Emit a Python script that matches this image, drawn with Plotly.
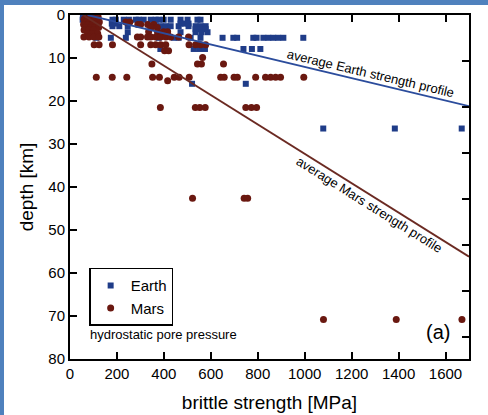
import plotly.graph_objects as go

# ---------------- data ----------------
earth_depth_km = (
    [0.5] * 4 +
    [1.1] * 19 +
    [2.0] * 5 +
    [2.6] * 13 +
    [3.3] * 3 +
    [4.0] * 8 +
    [5.3] * 19 +
    [7.9] * 7 +
    [16.0] * 2 +
    [26.4] * 3
)
earth_strength_mpa = (
    [55, 70, 88, 100] +
    [54, 75, 102, 181, 195, 229, 251, 280, 293, 314, 344, 365, 378, 399, 429, 471, 501, 543, 556] +
    [178, 195, 471, 490, 505] +
    [181, 210, 246, 344, 365, 386, 408, 429, 463, 505, 535, 556, 578] +
    [535, 556, 578] +
    [246, 373, 395, 416, 471, 535, 560, 586] +
    [112, 174, 238, 378, 442, 463, 514, 556, 650, 696, 712, 781, 795, 824, 845, 866, 887, 909, 994] +
    [385, 527, 550, 575, 739, 775, 811] +
    [520, 749] +
    [1079, 1384, 1669]
)

mars_depth_km = (
    [0.5] * 4 +
    [1.0] * 5 +
    [1.6] * 6 +
    [2.2] * 8 +
    [2.9] * 6 +
    [3.5] * 3 +
    [3.9] * 4 +
    [4.3] * 3 +
    [5.1] * 14 +
    [6.9] * 12 +
    [8.3] * 2 +
    [9.9] * 1 +
    [11.4] * 4 +
    [14.5] * 18 +
    [15.3] * 1 +
    [21.5] * 7 +
    [42.6] * 3 +
    [70.8] * 3
)
mars_strength_mpa = (
    [80, 95, 110, 120] +
    [60, 75, 90, 105, 118] +
    [70, 85, 100, 125, 238, 255] +
    [58, 78, 95, 112, 289, 301, 331, 357] +
    [65, 88, 105, 122, 345, 372] +
    [60, 80, 100] +
    [335, 373, 399, 416] +
    [75, 95, 118] +
    [59, 81, 102, 123, 287, 301, 330, 344, 365, 386, 408, 429, 463, 505] +
    [103, 124, 181, 301, 344, 365, 386, 408, 507, 535, 556, 578] +
    [403, 420] +
    [565] +
    [349, 543, 560, 654] +
    [112, 180, 242, 352, 381, 444, 465, 508, 642, 657, 699, 713, 791, 833, 855, 876, 897, 996] +
    [416] +
    [385, 534, 553, 576, 749, 773, 795] +
    [522, 742, 757] +
    [1080, 1390, 1670]
)

earth_profile_strength = [75, 1700]
earth_profile_depth = [0, 21.2]
mars_profile_strength = [55, 1700]
mars_profile_depth = [0, 56.2]

x_ticks = [0, 200, 400, 600, 800, 1000, 1200, 1400, 1600]
y_ticks = [0, 10, 20, 30, 40, 50, 60, 70, 80]

EARTH_C = "#1f3c88"
MARS_C = "#6a1810"

fig = go.Figure()
fig.add_trace(go.Scatter(
    x=earth_strength_mpa, y=earth_depth_km, mode="markers", name="Earth",
    marker=dict(symbol="square", size=6, color=EARTH_C)))
fig.add_trace(go.Scatter(
    x=mars_strength_mpa, y=mars_depth_km, mode="markers", name="Mars",
    marker=dict(symbol="circle", size=7, color=MARS_C)))
fig.add_trace(go.Scatter(
    x=earth_profile_strength, y=earth_profile_depth, mode="lines",
    line=dict(color="#2b4c9c", width=1.8), showlegend=False))
fig.add_trace(go.Scatter(
    x=mars_profile_strength, y=mars_profile_depth, mode="lines",
    line=dict(color="#6b2a22", width=1.8), showlegend=False))
# empty trace to carry the right-hand tick axis
fig.add_trace(go.Scatter(x=[], y=[], yaxis="y2", showlegend=False, hoverinfo="skip"))

fig.update_layout(
    width=488, height=415,
    margin=dict(l=70, r=19, t=15, b=56),
    plot_bgcolor="white", paper_bgcolor="white",
    font=dict(family="Liberation Sans, Arial, sans-serif", color="black"),
    xaxis=dict(range=[0, 1700], tickvals=x_ticks, ticks="inside", ticklen=7,
               tickwidth=2, tickcolor="black", showline=True, linewidth=2,
               linecolor="black", mirror="ticks", showgrid=False, zeroline=False,
               tickfont=dict(size=15), automargin=False,
               title=dict(text="brittle strength [MPa]", font=dict(size=19), standoff=15)),
    yaxis=dict(range=[80, 0], tickvals=y_ticks, ticks="inside", ticklen=7,
               tickwidth=2, tickcolor="black", showline=True, linewidth=2,
               linecolor="black", mirror=True, showgrid=False, zeroline=False,
               tickfont=dict(size=15), automargin=False,
               title=dict(text="depth [km]", font=dict(size=19), standoff=10)),
    yaxis2=dict(overlaying="y", side="right", range=[74.8, 0], dtick=10,
                ticks="inside", ticklen=7, tickwidth=2, tickcolor="black",
                showticklabels=False, showline=True, linewidth=2, linecolor="black",
                showgrid=False, zeroline=False, automargin=False),
    legend=dict(x=0.048, y=0.265, xanchor="left", yanchor="top",
                bordercolor="black", borderwidth=1.5, bgcolor="white",
                font=dict(size=15), itemwidth=30, tracegroupgap=0),
    showlegend=True,
)

fig.add_annotation(x=1282, y=13.5, text="average Earth strength profile",
                   showarrow=False, textangle=13.3, font=dict(size=13))
fig.add_annotation(x=1274, y=44, text="average Mars strength profile",
                   showarrow=False, textangle=32, font=dict(size=13))
fig.add_annotation(x=0.045, xref="paper", y=74.2, text="hydrostatic pore pressure",
                   showarrow=False, xanchor="left", font=dict(size=13))
fig.add_annotation(x=1628, y=73.7, text="(a)", showarrow=False, xanchor="right",
                   font=dict(size=20))

# blue frame strips at the left and top edge of the picture
fig.add_shape(type="rect", xref="paper", yref="paper", x0=-70/399, x1=-66/399,
              y0=-56/344, y1=359/344, fillcolor="#4f81bd", line=dict(width=0),
              layer="above")
fig.add_shape(type="rect", xref="paper", yref="paper", x0=-70/399, x1=418/399,
              y0=(359-5)/344, y1=359/344, fillcolor="#4f81bd", line=dict(width=0),
              layer="above")

post = ("document.body.style.margin='0';document.body.style.padding='0';"
        "var d=document.getElementById('{plot_id}');"
        "d.style.position='absolute';d.style.left='0px';d.style.top='0px';")
fig.write_html("out.html", post_script=post, config={"displayModeBar": False})
